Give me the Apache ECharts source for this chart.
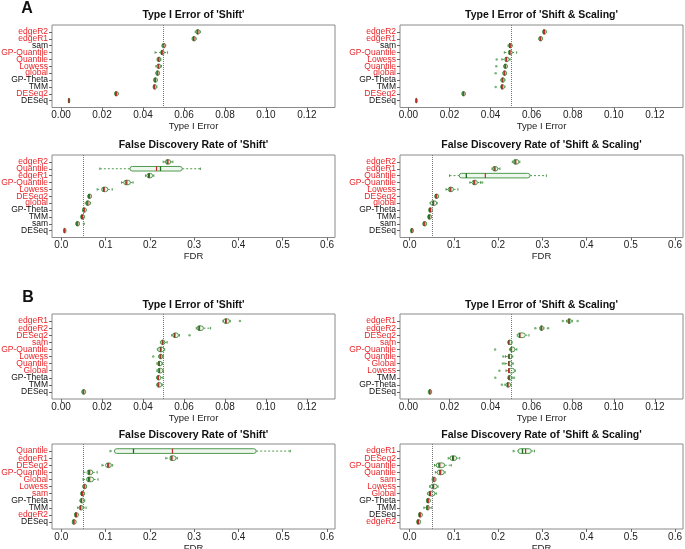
<!DOCTYPE html>
<html><head><meta charset="utf-8">
<script src="https://cdn.jsdelivr.net/npm/echarts@6/dist/echarts.min.js"></script>
<style>html,body{margin:0;padding:0;background:#fff}#c{width:685px;height:549px}</style>
</head><body><div id="c"></div>
<script>
// ---------- DATA ----------
const typeITicks = [0, 0.02, 0.04, 0.06, 0.08, 0.10, 0.12];
const fdrTicks = [0, 0.1, 0.2, 0.3, 0.4, 0.5, 0.6];
const refLine = 0.05;

// A: Type I Error of 'Shift'   stats = [min, q1, median, q3, max]
const A1_names = ['edgeR2','edgeR1','sam','GP-Quantile','Quantile','Lowess','global','GP-Theta','TMM','DESeq2','DESeq'];
const A1_red = [1,1,0,1,1,1,1,0,0,1,0];
const A1_stats = [
  [0.0655,0.0659,0.0668,0.0677,0.0680],
  [0.0640,0.0641,0.0649,0.0658,0.0659],
  [0.0493,0.0494,0.0502,0.0510,0.0511],
  [0.0459,0.0486,0.0494,0.0503,0.0520],
  [0.0469,0.0470,0.0478,0.0486,0.0487],
  [0.0463,0.0468,0.0477,0.0486,0.0490],
  [0.0463,0.0464,0.0472,0.0480,0.0481],
  [0.0452,0.0453,0.0461,0.0469,0.0470],
  [0.0450,0.0451,0.0457,0.0465,0.0468],
  [0.0261,0.0262,0.0270,0.0278,0.0279],
  [0.0036,0.0036,0.0039,0.0042,0.0042]];
const A1_mean = [0.0665,0.0646,0.0499,0.0491,0.0475,0.0474,0.0469,0.0458,0.0454,0.0267,0.0038];
const A1_out = [];

// A: Type I Error of 'Shift & Scaling'
const A2_names = ['edgeR2','edgeR1','sam','GP-Quantile','Lowess','Quantile','global','GP-Theta','TMM','DESeq2','DESeq'];
const A2_red = [1,1,0,1,1,1,1,0,0,1,0];
const A2_stats = [
  [0.0653,0.0654,0.0662,0.0670,0.0671],
  [0.0635,0.0636,0.0644,0.0652,0.0653],
  [0.0485,0.0488,0.0496,0.0504,0.0505],
  [0.0467,0.0487,0.0495,0.0505,0.0527],
  [0.0455,0.0469,0.0478,0.0490,0.0495],
  [0.0464,0.0465,0.0473,0.0481,0.0482],
  [0.0460,0.0461,0.0469,0.0477,0.0478],
  [0.0450,0.0452,0.0460,0.0468,0.0470],
  [0.0450,0.0451,0.0457,0.0466,0.0470],
  [0.0261,0.0262,0.0269,0.0276,0.0277],
  [0.0036,0.0036,0.0039,0.0042,0.0042]];
const A2_mean = [0.0659,0.0641,0.0493,0.0492,0.0475,0.0470,0.0466,0.0457,0.0454,0.0266,0.0038];
const A2_out = [[5,0.0430],[6,0.0428],[7,0.0425],[9,0.0425]];

// A: False Discovery Rate of 'Shift'
const A3_names = ['edgeR2','Quantile','edgeR1','GP-Quantile','Lowess','DESeq2','global','GP-Theta','TMM','sam','DESeq'];
const A3_red = [1,1,1,1,1,1,1,0,0,0,0];
const A3_stats = [
  [0.230,0.235,0.241,0.247,0.252],
  [0.087,0.155,0.215,0.273,0.314],
  [0.190,0.193,0.199,0.206,0.209],
  [0.136,0.141,0.148,0.156,0.162],
  [0.081,0.091,0.097,0.105,0.115],
  [0.060,0.060,0.064,0.068,0.068],
  [0.054,0.056,0.060,0.065,0.066],
  [0.048,0.048,0.052,0.056,0.056],
  [0.044,0.044,0.048,0.052,0.052],
  [0.033,0.033,0.037,0.041,0.041],
  [0.005,0.005,0.0075,0.010,0.010]];
const A3_mean = [0.239,0.224,0.197,0.146,0.095,0.062,0.058,0.050,0.046,0.035,0.007];
const A3_out = [[10,0.051]];

// A: False Discovery Rate of 'Shift & Scaling'
const A4_names = ['edgeR2','edgeR1','Quantile','GP-Quantile','Lowess','DESeq2','global','GP-Theta','TMM','sam','DESeq'];
const A4_red = [1,1,1,1,1,1,1,0,0,0,0];
const A4_stats = [
  [0.232,0.234,0.240,0.247,0.249],
  [0.186,0.187,0.193,0.199,0.204],
  [0.090,0.112,0.171,0.272,0.309],
  [0.136,0.141,0.147,0.153,0.160],
  [0.082,0.087,0.093,0.099,0.109],
  [0.057,0.057,0.061,0.065,0.065],
  [0.046,0.047,0.054,0.061,0.062],
  [0.043,0.043,0.047,0.051,0.051],
  [0.041,0.041,0.045,0.049,0.049],
  [0.030,0.030,0.034,0.038,0.038],
  [0.002,0.002,0.005,0.008,0.008]];
const A4_mean = [0.238,0.191,0.128,0.145,0.091,0.059,0.052,0.045,0.043,0.032,0.004];
const A4_out = [[4,0.164]];

// B: Type I Error of 'Shift'
const B1_names = ['edgeR1','edgeR2','DESeq2','sam','GP-Quantile','Lowess','Quantile','Global','GP-Theta','TMM','DESeq'];
const B1_red = [1,1,1,1,1,1,1,1,0,0,0];
const B1_stats = [
  [0.0790,0.0792,0.0806,0.0822,0.0826],
  [0.0660,0.0664,0.0676,0.0695,0.0730],
  [0.0540,0.0545,0.0556,0.0573,0.0578],
  [0.0485,0.0487,0.0497,0.0506,0.0518],
  [0.0470,0.0472,0.0488,0.0504,0.0506],
  [0.0476,0.0478,0.0487,0.0496,0.0500],
  [0.0468,0.0471,0.0480,0.0493,0.0496],
  [0.0468,0.0471,0.0481,0.0497,0.0500],
  [0.0466,0.0468,0.0475,0.0486,0.0497],
  [0.0467,0.0469,0.0477,0.0491,0.0494],
  [0.0102,0.0103,0.0111,0.0119,0.0120]];
const B1_mean = [0.0803,0.0673,0.0553,0.0495,0.0485,0.0484,0.0477,0.0478,0.0473,0.0474,0.0108];
const B1_out = [[1,0.0873],[3,0.0627],[6,0.0450]];

// B: Type I Error of 'Shift & Scaling'
const B2_names = ['edgeR1','edgeR2','DESeq2','sam','GP-Quantile','Quantile','Global','Lowess','TMM','GP-Theta','DESeq'];
const B2_red = [1,1,1,1,1,1,1,1,0,0,0];
const B2_stats = [
  [0.0770,0.0775,0.0783,0.0792,0.0798],
  [0.0640,0.0641,0.0649,0.0657,0.0660],
  [0.0530,0.0532,0.0543,0.0569,0.0587],
  [0.0484,0.0486,0.0490,0.0502,0.0505],
  [0.0492,0.0498,0.0502,0.0518,0.0528],
  [0.0473,0.0486,0.0491,0.0503,0.0508],
  [0.0470,0.0486,0.0490,0.0504,0.0510],
  [0.0475,0.0487,0.0488,0.0517,0.0520],
  [0.0484,0.0487,0.0491,0.0501,0.0505],
  [0.0470,0.0475,0.0485,0.0497,0.0500],
  [0.0097,0.0098,0.0105,0.0112,0.0113]];
const B2_mean = [0.0781,0.0646,0.0541,0.0488,0.0500,0.0489,0.0488,0.0490,0.0489,0.0483,0.0103];
const B2_out = [[1,0.0752],[1,0.0824],[2,0.0618],[2,0.0680],[5,0.0422],[6,0.0462],[7,0.0460],[8,0.0443],[9,0.0423],[9,0.0514],[10,0.0455]];

// B: False Discovery Rate of 'Shift'
const B3_names = ['Quantile','edgeR1','DESeq2','GP-Quantile','Global','Lowess','sam','GP-Theta','TMM','edgeR2','DESeq'];
const B3_red = [1,1,1,1,1,1,1,0,0,1,0];
const B3_stats = [
  [0.110,0.120,0.251,0.440,0.517],
  [0.236,0.245,0.250,0.259,0.262],
  [0.092,0.100,0.107,0.113,0.116],
  [0.050,0.058,0.064,0.071,0.081],
  [0.049,0.057,0.064,0.073,0.083],
  [0.049,0.049,0.053,0.057,0.057],
  [0.044,0.044,0.048,0.052,0.052],
  [0.042,0.043,0.046,0.052,0.053],
  [0.037,0.041,0.044,0.049,0.056],
  [0.030,0.030,0.034,0.038,0.038],
  [0.025,0.025,0.029,0.033,0.033]];
const B3_mean = [0.163,0.248,0.105,0.062,0.061,0.051,0.046,0.045,0.043,0.032,0.027];
const B3_out = [];

// B: False Discovery Rate of 'Shift & Scaling'
const B4_names = ['edgeR1','DESeq2','GP-Quantile','Quantile','sam','Lowess','Global','GP-Theta','TMM','DESeq','edgeR2'];
const B4_red = [1,1,1,1,1,1,1,0,0,0,1];
const B4_stats = [
  [0.234,0.245,0.262,0.275,0.282],
  [0.087,0.091,0.099,0.106,0.113],
  [0.056,0.060,0.068,0.079,0.094],
  [0.058,0.062,0.070,0.078,0.080],
  [0.051,0.051,0.055,0.059,0.059],
  [0.045,0.047,0.054,0.062,0.064],
  [0.040,0.041,0.047,0.057,0.060],
  [0.038,0.038,0.042,0.046,0.046],
  [0.032,0.038,0.041,0.044,0.050],
  [0.020,0.020,0.024,0.028,0.028],
  [0.016,0.016,0.020,0.024,0.024]];
const B4_mean = [0.255,0.097,0.066,0.068,0.053,0.052,0.045,0.040,0.039,0.022,0.018];
const B4_out = [];

// ---------- LAYOUT ----------
const FONT = '"Liberation Sans", Arial, Helvetica, sans-serif';
const RED = '#e8262a';
const panels = [
  {title:"Type I Error of 'Shift'", xname:'Type I Error', ticks:typeITicks, dec:2, xmin:-0.0044, xmax:0.1337, g:[52,25,283,82.5], names:A1_names, red:A1_red, stats:A1_stats, mean:A1_mean, out:A1_out, ty:15},
  {title:"Type I Error of 'Shift & Scaling'", xname:'Type I Error', ticks:typeITicks, dec:2, xmin:-0.0041, xmax:0.1337, g:[400,25,283,82.5], names:A2_names, red:A2_red, stats:A2_stats, mean:A2_mean, out:A2_out, ty:15},
  {title:"False Discovery Rate of 'Shift'", xname:'FDR', ticks:fdrTicks, dec:1, xmin:-0.021, xmax:0.618, g:[52,155,283,82.5], names:A3_names, red:A3_red, stats:A3_stats, mean:A3_mean, out:A3_out, ty:145},
  {title:"False Discovery Rate of 'Shift & Scaling'", xname:'FDR', ticks:fdrTicks, dec:1, xmin:-0.022, xmax:0.618, g:[400,155,283,82.5], names:A4_names, red:A4_red, stats:A4_stats, mean:A4_mean, out:A4_out, ty:145},
  {title:"Type I Error of 'Shift'", xname:'Type I Error', ticks:typeITicks, dec:2, xmin:-0.0044, xmax:0.1337, g:[52,314,283,85], names:B1_names, red:B1_red, stats:B1_stats, mean:B1_mean, out:B1_out, ty:305},
  {title:"Type I Error of 'Shift & Scaling'", xname:'Type I Error', ticks:typeITicks, dec:2, xmin:-0.0041, xmax:0.1337, g:[400,314,283,85], names:B2_names, red:B2_red, stats:B2_stats, mean:B2_mean, out:B2_out, ty:305},
  {title:"False Discovery Rate of 'Shift'", xname:'FDR', ticks:fdrTicks, dec:1, xmin:-0.021, xmax:0.618, g:[52,444,283,85], names:B3_names, red:B3_red, stats:B3_stats, mean:B3_mean, out:B3_out, ty:435},
  {title:"False Discovery Rate of 'Shift & Scaling'", xname:'FDR', ticks:fdrTicks, dec:1, xmin:-0.022, xmax:0.618, g:[400,444,283,85], names:B4_names, red:B4_red, stats:B4_stats, mean:B4_mean, out:B4_out, ty:435}
];

const GREEN = '#4f9a4f';
function renderBox(params, api) {
  const row = api.value(0);
  const mn = api.value(1), q1 = api.value(2), md = api.value(3), q3 = api.value(4), mx = api.value(5), mean = api.value(6);
  const px = v => api.coord([v, row])[0];
  const y = api.coord([md, row])[1];
  const unit = Math.abs(api.coord([md, row + 1])[1] - y) || Math.abs(api.coord([md, row - 1])[1] - y);
  const hh = unit * 0.33, sh = unit * 0.18;
  const x1 = px(q1), x3 = px(q3);
  const w = Math.max(x3 - x1, 1);
  return {type:'group', children:[
    {type:'line', shape:{x1:px(mn), y1:y, x2:x1, y2:y}, style:{stroke:GREEN, lineWidth:1, lineDash:[2,2]}},
    {type:'line', shape:{x1:x3, y1:y, x2:px(mx), y2:y}, style:{stroke:GREEN, lineWidth:1, lineDash:[2,2]}},
    {type:'line', shape:{x1:px(mn), y1:y-sh, x2:px(mn), y2:y+sh}, style:{stroke:GREEN, lineWidth:1}},
    {type:'line', shape:{x1:px(mx), y1:y-sh, x2:px(mx), y2:y+sh}, style:{stroke:GREEN, lineWidth:1}},
    {type:'rect', shape:{x:x1, y:y-hh, width:w, height:2*hh, r:Math.min(hh, w/2)}, style:{fill:'#eef7ee', stroke:GREEN, lineWidth:1}},
    {type:'line', shape:{x1:px(mean), y1:y-hh, x2:px(mean), y2:y+hh}, style:{stroke:'#1d6b1d', lineWidth:1.3}},
    {type:'line', shape:{x1:px(md), y1:y-hh, x2:px(md), y2:y+hh}, style:{stroke:'#c0282a', lineWidth:1.2}}
  ]};
}

const grid = [], xAxis = [], yAxis = [], series = [], graphic = [];
panels.forEach((p, i) => {
  const bottomPanel = i >= 6;
  grid.push({left:p.g[0], top:p.g[1], width:p.g[2], height:p.g[3], show:true, borderColor:'#8a8a8a', borderWidth:1, backgroundColor:'transparent', outerBoundsMode:'none', containLabel:false});
  xAxis.push({type:'value', gridIndex:i, min:p.xmin, max:p.xmax,
    axisLine:{show:false, onZero:false}, splitLine:{show:false},
    axisTick:{show:true, length:3, customValues:p.ticks, lineStyle:{color:'#666'}},
    axisLabel:{customValues:p.ticks, formatter:v => v.toFixed(p.dec), fontSize:10, color:'#222', margin:3, fontFamily:FONT, showMinLabel:true, showMaxLabel:true, hideOverlap:false},
    name:p.xname, nameLocation:'middle', nameGap:bottomPanel ? 7 : 10, nameTextStyle:{fontSize:9.5, color:'#222', fontFamily:FONT}});
  // padded category axis: blank slots at both ends, methods at indices 1..11
  const cats = [''].concat(p.names.map((n, k) => ({value:n, textStyle:{color:p.red[k] ? RED : '#111'}}))).concat(['']);
  yAxis.push({type:'category', gridIndex:i, data:cats, boundaryGap:false, inverse:true,
    axisLine:{show:false, onZero:false}, splitLine:{show:false},
    axisTick:{show:true, length:3, interval:(idx) => idx > 0 && idx < cats.length - 1, lineStyle:{color:'#666'}},
    axisLabel:{interval:0, margin:4, fontFamily:FONT, fontSize:8.5, hideOverlap:false}});
  series.push({type:'custom', xAxisIndex:i, yAxisIndex:i, renderItem:renderBox,
    encode:{x:[1,2,3,4,5,6], y:0},
    data:p.stats.map((s, k) => [k + 1, s[0], s[1], s[2], s[3], s[4], p.mean[k]]),
    markLine:{silent:true, symbol:'none', label:{show:false}, lineStyle:{type:'dotted', color:'#777', width:1}, data:[{xAxis:refLine}]}});
  series.push({type:'scatter', xAxisIndex:i, yAxisIndex:i, symbol:'circle', symbolSize:2.5,
    itemStyle:{color:'#5aa05a'}, data:p.out.map(o => [o[1], o[0]])});
  graphic.push({type:'text', x:p.g[0] + p.g[2] / 2, y:p.ty, style:{text:p.title, fontSize:10.5, fontWeight:'bold', fontFamily:FONT, fill:'#111', textAlign:'center', textVerticalAlign:'middle'}});
});
graphic.push({type:'text', x:27, y:9, style:{text:'A', fontSize:16, fontWeight:'bold', fontFamily:FONT, fill:'#111', textAlign:'center', textVerticalAlign:'middle'}});
graphic.push({type:'text', x:28, y:298, style:{text:'B', fontSize:16, fontWeight:'bold', fontFamily:FONT, fill:'#111', textAlign:'center', textVerticalAlign:'middle'}});

const chart = echarts.init(document.getElementById('c'), null, {renderer:'canvas'});
chart.setOption({animation:false, backgroundColor:'#fff', grid, xAxis, yAxis, series, graphic});
</script></body></html>
